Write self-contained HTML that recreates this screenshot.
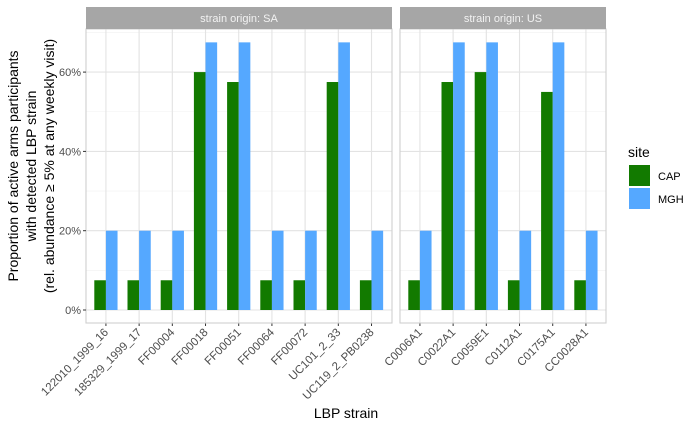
<!DOCTYPE html>
<html><head><meta charset="utf-8"><style>
body{margin:0;background:#fff;font-family:"Liberation Sans",sans-serif}
svg text{font-family:"Liberation Sans",sans-serif}
</style></head><body>
<svg id="chart" width="700" height="432" xmlns="http://www.w3.org/2000/svg">
<g id="g"></g>
</svg>
<script>
const saCategories=["122010_1999_16","185329_1999_17","FF00004","FF00018","FF00051","FF00064","FF00072","UC101_2_33","UC119_2_PB0238"];
const saCAP=[7.5,7.5,7.5,60,57.5,7.5,7.5,57.5,7.5];
const saMGH=[20,20,20,67.5,67.5,20,20,67.5,20];
const usCategories=["C0006A1","C0022A1","C0059E1","C0112A1","C0175A1","CC0028A1"];
const usCAP=[7.5,57.5,60,7.5,55,7.5];
const usMGH=[20,67.5,67.5,20,67.5,20];
const yTicks=[0,20,40,60];
const yTickLabels=["0%","20%","40%","60%"];
const ns="http://www.w3.org/2000/svg";
const g=document.getElementById('g');
function el(t,a,txt){const e=document.createElementNS(ns,t);for(const k in a)e.setAttribute(k,a[k]);if(txt!==undefined)e.textContent=txt;g.appendChild(e);return e;}
const y0=310, pxPer=79.3/20, unit=33.2, plotTop=29, plotBottom=323;
function y(v){return y0-v*pxPer;}
const panels=[{left:86,right:392,cats:saCategories,cap:saCAP,mgh:saMGH,title:"strain origin: SA",name:"sa"},
{left:400,right:606,cats:usCategories,cap:usCAP,mgh:usMGH,title:"strain origin: US",name:"us"}];
panels.forEach(p=>{
  const x=i=>p.left+(i+0.6)*unit;
  let r=el('rect',{x:p.left,y:plotTop,width:p.right-p.left,height:plotBottom-plotTop,fill:'#fff'});
  
  
  for(let v=10;v<=70;v+=20){el('line',{x1:p.left,x2:p.right,y1:y(v),y2:y(v),stroke:'#f0f0f0','stroke-width':0.6});}
  yTicks.forEach(v=>el('line',{x1:p.left,x2:p.right,y1:y(v),y2:y(v),stroke:'#e3e3e3','stroke-width':1.1}));
  p.cats.forEach((c,i)=>el('line',{x1:x(i),x2:x(i),y1:plotTop,y2:plotBottom,stroke:'#e3e3e3','stroke-width':1.1}));
  p.cats.forEach((c,i)=>{
    const bw=unit*0.35;
    let b=el('rect',{x:x(i)-bw,y:y(p.cap[i]),width:bw,height:y0-y(p.cap[i]),fill:'#127a00'});
    
    
    let m=el('rect',{x:x(i),y:y(p.mgh[i]),width:bw,height:y0-y(p.mgh[i]),fill:'#55a8ff'});
    
    
    el('line',{x1:x(i),x2:x(i),y1:plotBottom,y2:plotBottom+3,stroke:'#333'});
    let t=el('text',{x:x(i)+3,y:plotBottom+10,'text-anchor':'end','font-size':11.5,fill:'#4d4d4d',transform:`rotate(-45 ${x(i)+3} ${plotBottom+10})`},c);
    
    
  });
  el('rect',{x:p.left,y:plotTop,width:p.right-p.left,height:plotBottom-plotTop,fill:'none',stroke:'#cfcfcf','stroke-width':1.1});
  let s=el('rect',{x:p.left,y:7,width:p.right-p.left,height:22,fill:'#a6a6a6'});
  
  
  let st=el('text',{x:(p.left+p.right)/2,y:22,'text-anchor':'middle','font-size':11,fill:'#f2f2f2'},p.title);
  
  
});
yTicks.forEach((v,i)=>{
  el('line',{x1:83,x2:86,y1:y(v),y2:y(v),stroke:'#333'});
  let t=el('text',{x:81,y:y(v)+4,'text-anchor':'end','font-size':11,fill:'#4d4d4d'},yTickLabels[i]);
  
  
});
const yt=["Proportion of active arms participants","with detected LBP strain","(rel. abundance \u2265 5% at any weekly visit)"];
yt.forEach((l,i)=>{const cx=18+i*18;let t=el('text',{x:cx,y:166,'text-anchor':'middle','font-size':14,fill:'#000',transform:`rotate(-90 ${cx} 166)`},l);

});
let xt=el('text',{x:346,y:418,'text-anchor':'middle','font-size':14,fill:'#000'},'LBP strain');


let lt=el('text',{x:628,y:157,'font-size':14,fill:'#000'},'site');


[["CAP","#127a00",165],["MGH","#55a8ff",188]].forEach(([n,c,yy])=>{
  let k=el('rect',{x:629,y:yy,width:21,height:21,fill:c});
  
  
  let t=el('text',{x:658,y:yy+15,'font-size':11,fill:'#000'},n);
  
  
});
</script>
</body></html>
